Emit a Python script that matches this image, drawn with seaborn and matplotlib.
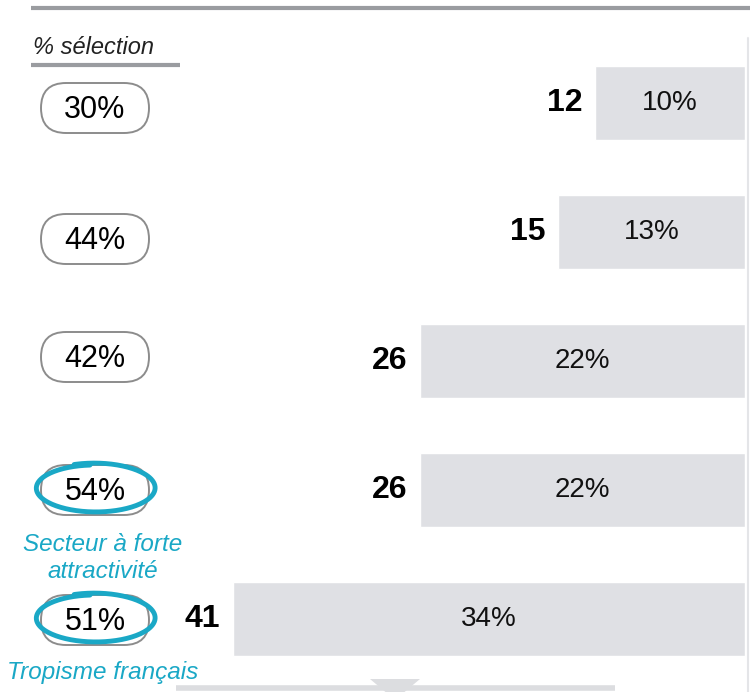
import numpy as np
import seaborn as sns
import matplotlib.pyplot as plt
from matplotlib.patches import FancyBboxPatch, Polygon

# Données du graphique
selection = ["30%", "44%", "42%", "54%", "51%"]
counts = [12, 15, 26, 26, 41]
shares = ["10%", "13%", "22%", "22%", "34%"]
highlights = {3: "Secteur à forte\nattractivité", 4: "Tropisme français"}

GREY_BAR = "#dfe0e4"
CYAN = "#1aa8c6"

sns.set_theme(style="white")
plt.rcParams['font.family'] = ['Liberation Sans', 'DejaVu Sans']

fig = plt.figure(figsize=(7.5, 6.92), dpi=100)

# Axe des barres : les barres partent de la droite
ax = fig.add_axes([0, 0, 745 / 750, 1])
sns.barplot(x=counts, y=selection, orient="h", color=GREY_BAR,
            saturation=1, width=0.574, ax=ax)
ax.set_xlim(745 / 12.5, 0)
ax.set_ylim(4.566, -0.798)
ax.axis("off")

for i, (c, s) in enumerate(zip(counts, shares)):
    ax.text(c + 1.0, i, str(c), ha="right", va="center",
            fontsize=23, fontweight="bold", color="black")
    ax.text(c / 2, i, s, ha="center", va="center", fontsize=20, color="#111111")

# Calque en pixels pour les annotations
ov = fig.add_axes([0, 0, 1, 1], zorder=5)
ov.set_xlim(0, 750)
ov.set_ylim(692, 0)
ov.axis("off")
ov.patch.set_alpha(0)

# lignes du haut / bas
ov.plot([31, 750], [8, 8], color="#9a9ca0", lw=3, solid_capstyle="butt")
ov.plot([31, 180], [65, 65], color="#9a9ca0", lw=3, solid_capstyle="butt")
ov.plot([748, 748], [38, 692], color="#e4e5e8", lw=1.5)
ov.plot([176, 615], [688, 688], color="#dcdde0", lw=4, solid_capstyle="butt")
ov.add_patch(Polygon([[370, 679], [420, 679], [395, 700]], closed=True,
                     color="#dcdde0", lw=0))

ov.text(33, 48, "% sélection", fontsize=17, style="italic", ha="left",
        va="center", color="#222222")

pill_offsets = [5, 7, -4, 0, 1]
for i, lab in enumerate(selection):
    yc = 103 + 129 * i + pill_offsets[i]
    ov.add_patch(FancyBboxPatch((41, yc - 25), 108, 50,
                                boxstyle="round,pad=0,rounding_size=25",
                                fc="white", ec="#8c8c8c", lw=1.4))
    ov.text(95, yc + 2, lab, ha="center", va="center", fontsize=22, color="black")
    if i in highlights:
        # cercle "à la main"
        t = np.linspace(np.radians(95), np.radians(95 + 375), 200)
        rx = 58 + 3 * (t - t[0]) / (t[-1] - t[0])
        ry = 23 + 2 * (t - t[0]) / (t[-1] - t[0])
        xs = 95 + rx * np.cos(t)
        ys = yc - 2 - ry * np.sin(t)
        ov.plot(xs, ys, color=CYAN, lw=3.5, solid_capstyle="round")
        ty = yc + 68 if "\n" in highlights[i] else yc + 52
        ov.text(103, ty, highlights[i], ha="center", va="center",
                fontsize=17.5, style="italic", color=CYAN, linespacing=1.25)

fig.savefig("out.png", dpi=100)
